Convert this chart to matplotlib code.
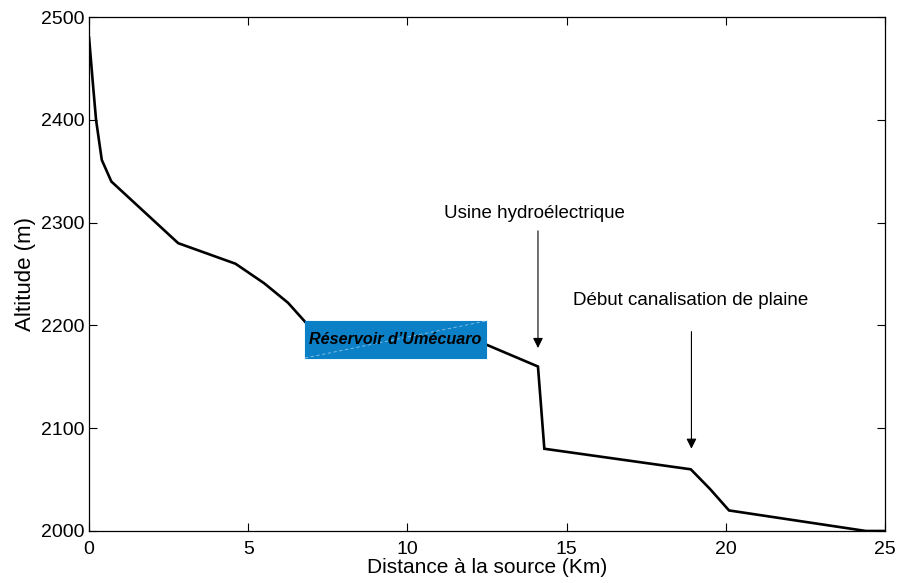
import matplotlib
matplotlib.use("Agg")
import matplotlib.pyplot as plt
from matplotlib.patches import Rectangle

plt.rcParams['font.family'] = ['Liberation Sans', 'DejaVu Sans']

distance_km = [0.0, 0.13, 0.22, 0.4, 0.7, 1.4, 2.8, 4.6, 5.5, 6.25, 6.8,
               9.5, 12.5, 14.1, 14.2, 14.3, 18.9, 19.5, 20.1, 24.4, 25.0]
altitude_m = [2480, 2432, 2400, 2361, 2340, 2320, 2280, 2260, 2241, 2222, 2203,
              2192, 2181, 2160, 2120, 2080, 2060, 2041, 2020, 2000, 2000]

xticks = [0, 5, 10, 15, 20, 25]
yticks = [2000, 2100, 2200, 2300, 2400, 2500]

ann1_text = "Usine hydroélectrique"
ann1_xy = (14.1, 2178)
ann1_from = (14.1, 2292)
ann1_label = (14.0, 2309)

ann2_text = "Début canalisation de plaine"
ann2_xy = (18.92, 2080)
ann2_from = (18.92, 2194)
ann2_label = (18.88, 2224)

box_text = "Réservoir d\u2019Umécuaro"
box_x = (6.78, 12.47)
box_y = (2168.3, 2204.3)

fig = plt.figure(figsize=(9.04, 5.83), dpi=100)
ax = fig.add_axes([0.0985, 0.0892, 0.8805, 0.8816])

ax.plot(distance_km, altitude_m, color='black', linewidth=1.9, solid_joinstyle='miter', zorder=2)

ax.set_xlim(0, 25)
ax.set_ylim(2000, 2500)
ax.set_xticks(xticks)
ax.set_yticks(yticks)
ax.tick_params(direction='in', top=True, right=True, labelsize=14, length=6, width=0.8)
ax.tick_params(axis='x', pad=7)
ax.tick_params(axis='y', pad=3)
for s in ax.spines.values():
    s.set_linewidth(0.9)

ax.set_xlabel("Distance à la source (Km)", fontsize=15, labelpad=0)
ax.set_ylabel("Altitude (m)", fontsize=16, labelpad=4)

for txt, xy, frm, lab in [(ann1_text, ann1_xy, ann1_from, ann1_label),
                          (ann2_text, ann2_xy, ann2_from, ann2_label)]:
    ax.annotate("", xy=xy, xytext=frm,
                arrowprops=dict(arrowstyle='-|>', color='black', lw=0.8,
                                mutation_scale=15, shrinkA=0, shrinkB=0))
    ax.text(lab[0], lab[1], txt, ha='center', va='center', fontsize=13.5)

rect = Rectangle((box_x[0], box_y[0]), box_x[1] - box_x[0], box_y[1] - box_y[0],
                 facecolor='#0b80c6', edgecolor='#0b80c6', linewidth=0.8, zorder=4)
ax.add_patch(rect)
ax.plot([box_x[0], box_x[1]], [box_y[0], box_y[1]], color='#8cc4e8', linewidth=0.6,
        linestyle=(0, (4, 3)), zorder=4.5)
ax.text((box_x[0] + box_x[1]) / 2, (box_y[0] + box_y[1]) / 2, box_text,
        ha='center', va='center', fontsize=11.6, fontweight='bold', fontstyle='italic',
        color='black', zorder=5)

fig.savefig("out.png", dpi=100)
